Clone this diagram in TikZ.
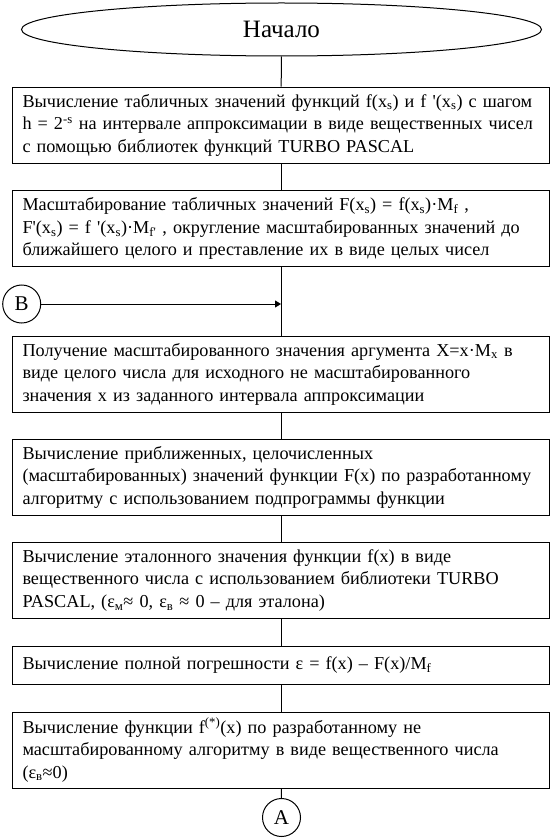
\documentclass[tikz,border=0pt]{standalone}
\usepackage{fontspec}
\setmainfont{Liberation Serif}
\usetikzlibrary{shapes.geometric, arrows.meta}
\tikzset{stepbox/.style={draw,line width=1pt,text width=517pt,inner xsep=10pt,inner ysep=0pt,minimum height=76pt,align=left,font=\fontsize{18.2}{22.5}\selectfont},
         terminal/.style={draw,ellipse,line width=1pt,minimum width=520pt,minimum height=53pt,inner sep=0pt,font=\fontsize{25}{28}\selectfont},
         joint/.style={draw,circle,line width=1pt,minimum size=38pt,inner sep=0pt,font=\fontsize{21}{23}\selectfont},
         flow/.style={line width=1pt},
        }

\begin{document}
\begin{tikzpicture}[x=1pt,y=-1pt]
        \useasboundingbox(0,0)rectangle(552,840);
        \node[terminal](start)at(281.5,29.5){Начало};

        \node[stepbox](s1)at(281,125.2){Вычисление табличных значений функций f(x\textsubscript{s}) и f \textquotesingle(x\textsubscript{s}) с шагом\\h = 2\textsuperscript{-s} на интервале аппроксимации в виде вещественных чисел\\с помощью библиотек функций TURBO PASCAL};
        \draw[flow](start)--(s1);

        \node[stepbox](s2)at(281,228.9){Масштабирование табличных значений F(x\textsubscript{s}) = f(x\textsubscript{s})·M\textsubscript{f} ,\\F\textquotesingle(x\textsubscript{s}) = f \textquotesingle(x\textsubscript{s})·M\textsubscript{f\textquotesingle} , округление масштабированных значений до\\ближайшего целого и преставление их в виде целых чисел};
        \draw[flow](s1)--(s2);

        \node[joint](B)at(21.7,304){B};
        \coordinate(join)at(281,304);

        \node[stepbox](s3)at(281,374){Получение масштабированного значения аргумента X=x·M\textsubscript{x} в\\виде целого числа для исходного не масштабированного\\значения x из заданного интервала аппроксимации};
        \draw[flow](s2)--(s3);
        \draw[flow,-{Triangle[length=6pt,width=7pt]}](B)--(join);

        \node[stepbox](s4)at(281,477){Вычисление приближенных, целочисленных\\(масштабированных) значений функции F(x) по разработанному\\алгоритму с использованием подпрограммы функции};
        \draw[flow](s3)--(s4);

        \node[stepbox](s5)at(281,580.5){Вычисление эталонного значения функции f(x) в виде\\вещественного числа с использованием библиотеки TURBO\\PASCAL, (ε\textsubscript{м}≈ 0, ε\textsubscript{в} ≈ 0 – для эталона)};
        \draw[flow](s4)--(s5);

        \node[stepbox,minimum height=38pt](s6)at(281,665){Вычисление полной погрешности ε = f(x) – F(x)/M\textsubscript{f}};
        \draw[flow](s5)--(s6);

        \node[stepbox](s7)at(281,750){Вычисление функции f\textsuperscript{(*)}(x) по разработанному не\\масштабированному алгоритму в виде вещественного числа\\(ε\textsubscript{в}≈0)};
        \draw[flow](s6)--(s7);

        \node[joint](A)at(281.5,817.5){A};
        \draw[flow](s7)--(A);
    \end{tikzpicture}
\end{document}
